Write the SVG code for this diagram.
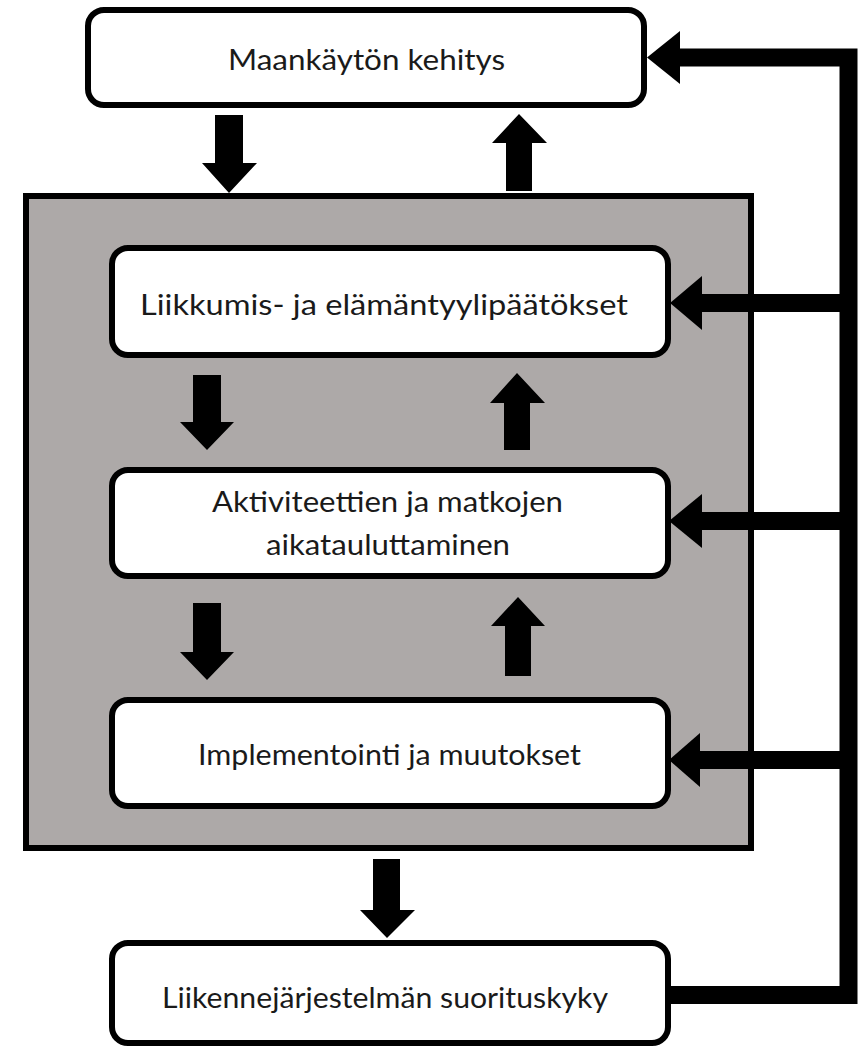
<svg xmlns="http://www.w3.org/2000/svg" width="864" height="1047" viewBox="0 0 864 1047">
<defs>
<style>
.box{fill:#ffffff;stroke:#000000;stroke-width:6}
.panel{fill:#ada9a8;stroke:#000000;stroke-width:6}
.lbl{font-family:"Lato","Liberation Sans",sans-serif;font-size:29px;fill:#1a1a1a;text-anchor:middle}
.blk{fill:#000000}
.fb{fill:none;stroke:#000000;stroke-width:18}
</style>
</defs>
<rect width="864" height="1047" fill="#ffffff"/>
<g id="panel"><rect class="panel" x="26" y="196" width="725" height="652"/></g>
<g id="node-maankaytto"><rect class="box" x="88" y="10" width="556" height="95" rx="16"/><text class="lbl" x="366.5" y="70" textLength="277" lengthAdjust="spacingAndGlyphs">Maankäytön kehitys</text></g>
<g id="node-liikkumis"><rect class="box" x="112" y="248" width="556" height="107" rx="16"/><text class="lbl" x="384" y="315" textLength="488" lengthAdjust="spacingAndGlyphs">Liikkumis- ja elämäntyylipäätökset</text></g>
<g id="node-aktiviteetit"><rect class="box" x="112" y="470" width="556" height="106" rx="16"/><text class="lbl" x="387.5" y="512" textLength="351" lengthAdjust="spacingAndGlyphs">Aktiviteettien ja matkojen</text><text class="lbl" x="388" y="555" textLength="244" lengthAdjust="spacingAndGlyphs">aikatauluttaminen</text></g>
<g id="node-implementointi"><rect class="box" x="112" y="700" width="556" height="106" rx="16"/><text class="lbl" x="389.5" y="765" textLength="383" lengthAdjust="spacingAndGlyphs">Implementointi ja muutokset</text></g>
<g id="node-liikennejarjestelma"><rect class="box" x="112" y="943" width="556" height="100" rx="16"/><text class="lbl" x="385" y="1008" textLength="446" lengthAdjust="spacingAndGlyphs">Liikennejärjestelmän suorituskyky</text></g>
<g id="connectors">
<polygon class="blk" points="215,115 243,115 243,163 257,163 229,193 202,163 215,163"/>
<polygon class="blk" points="506,191 532,191 532,143 547,143 519,114 492,143 506,143"/>
<polygon class="blk" points="193,375 221,375 221,422 234,422 207,450 180,422 193,422"/>
<polygon class="blk" points="504,450 530,450 530,403 545,403 517,373 490,403 504,403"/>
<polygon class="blk" points="193,603 221,603 221,652 234,652 207,680 180,652 193,652"/>
<polygon class="blk" points="505,676 531,676 531,626 545,626 518,597 491,626 505,626"/>
<polygon class="blk" points="373,859 400,859 400,910 415,910 387,938 360,910 373,910"/>
<polyline class="fb" points="668,995 848.5,995 848.5,57.5 678,57.5"/>
<polygon class="blk" points="647,57.5 680,31 680,84"/>
<line class="fb" x1="848.5" y1="303" x2="700" y2="303"/>
<polygon class="blk" points="670,303 702,276 702,330"/>
<line class="fb" x1="848.5" y1="521" x2="700" y2="521"/>
<polygon class="blk" points="669,521 702,494 702,548"/>
<line class="fb" x1="848.5" y1="760" x2="698" y2="760"/>
<polygon class="blk" points="669,760 700,733 700,787"/>
</g>
</svg>
